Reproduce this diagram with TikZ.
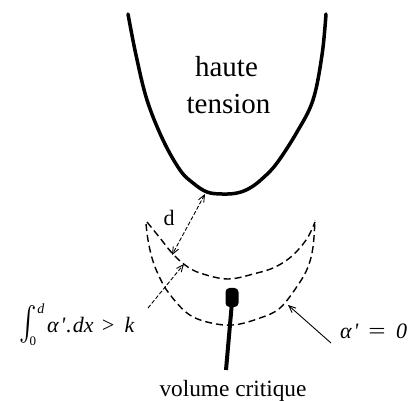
\documentclass[tikz,border=0pt]{standalone}
\usepackage{fontspec}
\usepackage{graphicx}
\setmainfont{Liberation Serif}
\newfontfamily\tnr{Liberation Serif}
\usetikzlibrary{arrows.meta}
\tikzset{
  electrode/.style={line width=3.5pt,line cap=round,line join=round},
  zone/.style={dash pattern=on 7pt off 4pt,line width=1.4pt},
  cote/.style={line width=0.9pt,-{Straight Barb[length=7pt,width=6pt]}},
  lbl/.style={inner sep=0pt,anchor=base},
}
\begin{document}
\begin{tikzpicture}[x=1pt,y=-1pt,font=\tnr]
\useasboundingbox (0,0) rectangle (413,401);
% electrode
\draw[electrode] plot[smooth,tension=0.6] coordinates {(128,14) (136,55) (147,100) (163,140) (180,170) (193,183) (207,192) (222,194) (237,193) (250,188) (263,178) (277,163) (297,132) (313,100) (322,55) (326,14)};
\node[lbl,font=\tnr\fontsize{29}{34}\selectfont] (ht1) at (226.5,77) {haute};
\node[lbl,font=\tnr\fontsize{29}{34}\selectfont] (ht2) at (228.5,114) {tension};
% zone arcs
\draw[zone] plot[smooth,tension=0.6] coordinates {(147,222) (160,238) (172,253) (185,265) (200,273) (228,279) (257,273) (273,268) (287,260) (298,250) (308,237) (315,222)};
\draw[zone] plot[smooth,tension=0.6] coordinates {(146,224) (148,240) (152,258) (158,274) (168,292) (187,313) (207,322) (233,325) (260,318) (280,308) (298,285) (308,267) (313,247) (315,220)};
% distance d
\coordinate (dtop) at (205,194);
\coordinate (dbot) at (172,255);
\draw[cote,{Straight Barb[length=7pt,width=6pt]}-{Straight Barb[length=7pt,width=6pt]},dash pattern=on 4pt off 2pt] (dtop) -- (dbot);
\node[lbl,font=\tnr\fontsize{22}{26}\selectfont] (d) at (169,226) {d};
% critical volume
\fill[rounded corners=4pt] (225.5,288) rectangle (238.5,307);
\coordinate (vctop) at (232,302);
\coordinate (vcbot) at (226,370);
\draw[line width=4pt] (vctop) -- (vcbot);
\node[lbl,font=\tnr\fontsize{23.3}{28}\selectfont] (vol) at (233,396) {volume critique};
% integral label
\node[inner sep=0pt] (ints) at (28,324) {\scalebox{2.6}[3.4]{$\int$}};
\node[lbl,font=\tnr\itshape\fontsize{14}{16}\selectfont] (intup) at (41,313) {d};
\node[lbl,font=\tnr\fontsize{13}{16}\selectfont] (intlo) at (33,345) {0};
\node[lbl,anchor=base west,font=\tnr\itshape\fontsize{22}{26}\selectfont] (intr) at (47,333) {α\kern2pt'\kern1pt.\kern1ptdx\kern7pt>\kern9pt k};
\coordinate (ia) at (148,308);
\coordinate (ib) at (184,264);
\draw[cote,dash pattern=on 4pt off 2pt] (ia) -- (ib);
% alpha' = 0
\node[lbl,anchor=base west,font=\tnr\itshape\fontsize{22}{26}\selectfont] (al) at (340,338) {α\kern2pt'\kern8pt\scalebox{1.4}[1]{=}\kern9pt0};
\coordinate (aa) at (331,343);
\coordinate (ab) at (288,305);
\draw[cote] (aa) -- (ab);
\end{tikzpicture}
\end{document}
